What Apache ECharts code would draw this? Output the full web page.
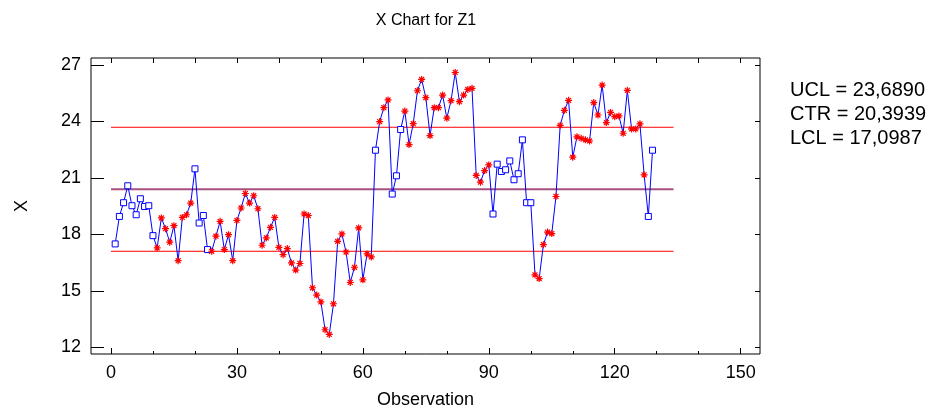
<!DOCTYPE html>
<html><head><meta charset="utf-8">
<script src="https://cdn.jsdelivr.net/npm/echarts@6/dist/echarts.min.js"></script>
<style>html,body{margin:0;padding:0;background:#fff}#c{width:939px;height:414px}</style>
</head><body><div id="c"></div>
<script>
// Observation values (observation number = position + 1)
const values = [
  17.49, 18.95, 19.68, 20.58, 19.52, 19.04, 19.89, 19.48, 19.52, 17.93,
  17.28, 18.87, 18.30, 17.58, 18.46, 16.60, 18.90, 19.04, 19.66, 21.48,
  18.60, 19.00, 17.19, 17.10, 17.90, 18.69, 17.19, 17.98, 16.60, 18.74,
  19.40, 20.17, 19.66, 20.05, 19.36, 17.42, 17.81, 18.37, 18.90, 17.31,
  16.92, 17.24, 16.48, 16.10, 16.45, 19.08, 19.00, 15.16, 14.77, 14.41,
  12.93, 12.68, 14.31, 17.63, 18.02, 17.06, 15.44, 16.25, 18.34, 15.58,
  16.96, 16.80, 22.47, 23.99, 24.73, 25.14, 20.14, 21.11, 23.57, 24.55,
  22.77, 23.88, 25.63, 26.23, 25.26, 23.25, 24.73, 24.73, 25.40, 24.17,
  25.10, 26.60, 25.05, 25.40, 25.70, 25.76, 21.13, 20.77, 21.39, 21.69,
  19.08, 21.73, 21.34, 21.43, 21.90, 20.90, 21.22, 23.02, 19.68, 19.68,
  15.85, 15.65, 17.45, 18.12, 18.04, 20.01, 23.79, 24.59, 25.12, 22.10,
  23.18, 23.10, 23.02, 22.96, 25.00, 24.34, 25.93, 23.94, 24.48, 24.25,
  24.29, 23.37, 25.65, 23.60, 23.60, 23.87, 21.16, 18.95, 22.47
];
// 1 = flagged point (red asterisk), 0 = normal point (blue square)
const flags = [
  0,0,0,0,0,0,0,0,0,0,
  1,1,1,1,1,1,1,1,1,0,
  0,0,0,1,1,1,1,1,1,1,
  1,1,1,1,1,1,1,1,1,1,
  1,1,1,1,1,1,1,1,1,1,
  1,1,1,1,1,1,1,1,1,1,
  1,1,0,1,1,1,0,0,0,1,
  1,1,1,1,1,1,1,1,1,1,
  1,1,1,1,1,1,1,1,1,1,
  0,0,0,0,0,0,0,0,0,0,
  1,1,1,1,1,1,1,1,1,1,
  1,1,1,1,1,1,1,1,1,1,
  1,1,1,1,1,1,1,0,0
];
const UCL = 23.6890, CTR = 20.3939, LCL = 17.0987;
const limitSpan = [0, 134];
const xTickLabels = [0, 30, 60, 90, 120, 150];
const xMinorTicks = [0, 10, 20, 30, 40, 50, 60, 70, 80, 90, 100, 110, 120, 130, 140, 150];
const yTickLabels = [12, 15, 18, 21, 24, 27];

const FONT = '"Liberation Sans", Arial, sans-serif';
const ASTERISK = 'path://M5,0L5,10M0,5L10,5M1.5,1.5L8.5,8.5M8.5,1.5L1.5,8.5';
const xMin = -4.76, xMax = 154.6, yMin = 11.64, yMax = 27.37;

const points = values.map((v, i) => flags[i]
  ? { value: [i + 1, v], symbol: ASTERISK, symbolSize: 7,
      itemStyle: { color: 'rgba(0,0,0,0)', borderColor: '#ff0000', borderWidth: 1.2 } }
  : { value: [i + 1, v], symbol: 'rect', symbolSize: 6,
      itemStyle: { color: '#ffffff', borderColor: '#0000ff', borderWidth: 1 } });

const limitSeries = (name, val, color, width) => ({
  name: name, type: 'line', z: 1, silent: true, symbol: 'none',
  data: limitSpan.map(x => [x, val]),
  lineStyle: { color: color, width: width, type: 'solid' },
  itemStyle: { color: color },
  emphasis: { disabled: true }
});

const fmt = v => v.toFixed(4).replace('.', ',');
const noLine = { show: false, onZero: false };
const chart = echarts.init(document.getElementById('c'), null, { renderer: 'canvas' });
chart.setOption({
  animation: false,
  backgroundColor: '#ffffff',
  textStyle: { fontFamily: FONT },
  title: {
    text: 'X Chart for Z1', left: 421, top: 8, textAlign: 'center',
    textStyle: { fontFamily: FONT, fontSize: 16, fontWeight: 'normal', color: '#000' }
  },
  grid: { left: 91, right: 179, top: 58, bottom: 60, show: true, borderColor: '#000', borderWidth: 1, backgroundColor: 'transparent' },
  xAxis: [
    { type: 'value', min: xMin, max: xMax, position: 'bottom',
      axisLine: noLine, splitLine: { show: false },
      axisTick: { inside: true, length: 6, customValues: xTickLabels, lineStyle: { color: '#000' } },
      axisLabel: { customValues: xTickLabels, fontSize: 18, color: '#000', margin: 10, fontFamily: FONT },
      name: 'Observation', nameLocation: 'middle', nameGap: 37,
      nameTextStyle: { fontSize: 18, color: '#000', fontFamily: FONT } },
    { type: 'value', min: xMin, max: xMax, position: 'bottom', offset: 0,
      axisLine: noLine, splitLine: { show: false }, axisLabel: { show: false },
      axisTick: { inside: true, length: 3, customValues: xMinorTicks, lineStyle: { color: '#000' } } },
    { type: 'value', min: xMin, max: xMax, position: 'top', offset: 0,
      axisLine: noLine, splitLine: { show: false }, axisLabel: { show: false },
      axisTick: { inside: true, length: 5, customValues: xMinorTicks, lineStyle: { color: '#000' } } }
  ],
  yAxis: [
    { type: 'value', min: yMin, max: yMax, position: 'left',
      axisLine: noLine, splitLine: { show: false },
      axisTick: { inside: true, length: 13, customValues: yTickLabels, lineStyle: { color: '#000' } },
      axisLabel: { customValues: yTickLabels, fontSize: 18, color: '#000', margin: 10, fontFamily: FONT },
      name: 'X', nameLocation: 'middle', nameGap: 60, nameRotate: 90,
      nameTextStyle: { fontSize: 18, color: '#000', fontFamily: FONT } },
    { type: 'value', min: yMin, max: yMax, position: 'right', offset: 0,
      axisLine: noLine, splitLine: { show: false }, axisLabel: { show: false },
      axisTick: { inside: true, length: 5, customValues: yTickLabels, lineStyle: { color: '#000' } } }
  ],
  series: [
    limitSeries('UCL', UCL, '#ff0000', 1),
    limitSeries('CTR', CTR, '#a8507e', 2),
    limitSeries('LCL', LCL, '#ff0000', 1),
    { name: 'X', type: 'line', data: points, z: 3, showAllSymbol: true,
      lineStyle: { color: '#0000ff', width: 1 } }
  ],
  graphic: [
    { type: 'text', left: 790, top: 80, style: { text: 'UCL = ' + fmt(UCL), font: '20px ' + FONT, fill: '#000' } },
    { type: 'text', left: 790, top: 104, style: { text: 'CTR = ' + fmt(CTR), font: '20px ' + FONT, fill: '#000' } },
    { type: 'text', left: 790, top: 128, style: { text: 'LCL = ' + fmt(LCL), font: '20px ' + FONT, fill: '#000' } }
  ]
});
</script></body></html>
